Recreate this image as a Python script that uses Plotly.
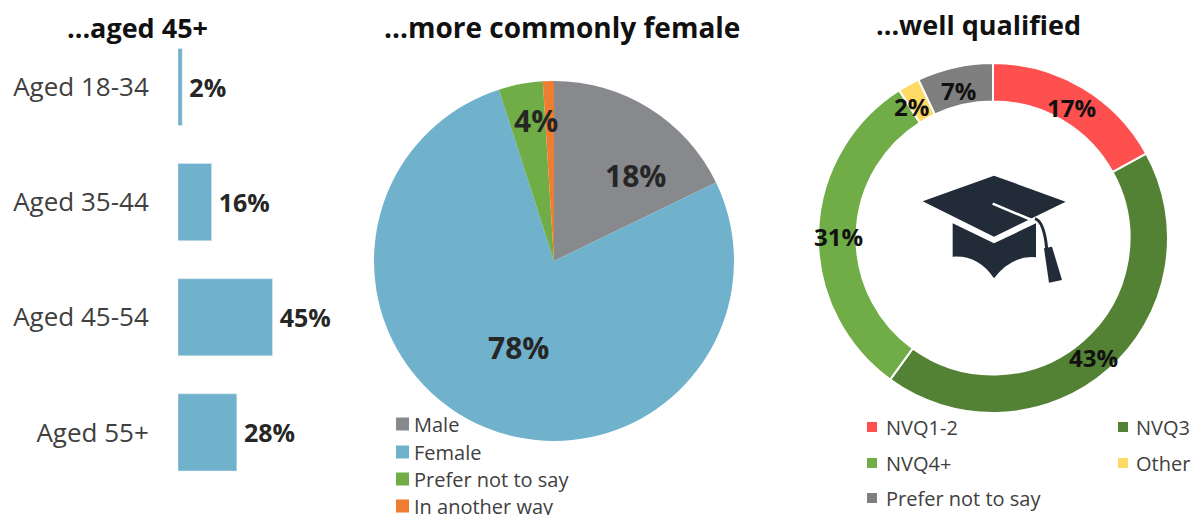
import plotly.graph_objects as go

W, H = 1198, 515
FONT = "Open Sans"
age_groups = ["Aged 18-34", "Aged 35-44", "Aged 45-54", "Aged 55+"]
age_values = [2, 16, 45, 28]
gender_labels = ["Male", "Female", "Prefer not to say", "In another way"]
gender_values = [18, 78, 4, 1]
gender_colors = ["#87898C", "#70B1CC", "#70AD47", "#ED7D31"]
qual_labels = ["NVQ1-2", "NVQ3", "NVQ4+", "Other", "Prefer not to say"]
qual_values = [17, 43, 31, 2, 7]
qual_colors = ["#FF5050", "#548235", "#70AD47", "#FFD966", "#7F7F7F"]
titles = ["...aged 45+", "...more commonly female", "...well qualified"]


def px(x):
    return x / W


def py(y):
    return 1 - y / H


def cap(x, y):
    return f"{px(900 + x / 3):.5f},{py(160 + y / 3):.5f}"


def path(points):
    return "M" + " L".join(cap(*p) for p in points) + " Z"


fig = go.Figure()
fig.add_trace(go.Bar(
    y=age_groups, x=age_values, orientation="h", marker_color="#70B1CC",
    text=[f"\u2009{v}%" for v in age_values], textposition="outside", cliponaxis=False,
    textfont=dict(family=FONT, size=25, color="#262626", weight="bold"),
    showlegend=False, xaxis="x", yaxis="y",
))
fig.add_trace(go.Pie(
    labels=gender_labels, values=gender_values, sort=False, direction="clockwise",
    marker=dict(colors=gender_colors), textinfo="none", hoverinfo="label+percent",
    domain=dict(x=[px(374), px(734)], y=[py(441), py(81)]), showlegend=False,
))
fig.add_trace(go.Pie(
    labels=qual_labels, values=qual_values, sort=False, direction="clockwise", hole=0.78,
    marker=dict(colors=qual_colors, line=dict(color="white", width=2)), textinfo="none",
    hoverinfo="label+percent",
    domain=dict(x=[px(818), px(1168)], y=[py(413), py(63)]), showlegend=False,
))

annotations = []


def add_text(text, x, y, size, color, anchor="center"):
    annotations.append(dict(x=px(x), y=py(y), text=text, showarrow=False, xref="paper", yref="paper",
                            xanchor=anchor, yanchor="middle",
                            font=dict(family=FONT, size=size, color=color)))


for text, x, y, size in zip(titles, [137, 562, 978], [27, 27, 25], [27, 28, 27]):
    add_text(f"<b>{text}</b>", x, y, size, "#111111")
for text, x, y in [("18%", 635, 176), ("78%", 518, 347), ("4%", 536, 120)]:
    add_text(f"<b>{text}</b>", x, y, 30, "#262626")
for text, x, y in [("17%", 1071, 108), ("43%", 1093, 357), ("31%", 838, 236), ("2%", 911, 106), ("7%", 958, 90)]:
    add_text(f"<b>{text}</b>", x, y, 24, "#111111")

CAP = "#222B38"
cap_base = ("M" + cap(158, 190) + " L" + cap(282, 250) + " L" + cap(408, 190) + " L" + cap(408, 292)
            + " Q" + cap(335, 285) + " " + cap(282, 355)
            + " Q" + cap(235, 285) + " " + cap(158, 290) + " Z")
shapes = [
    dict(type="path", xref="paper", yref="paper", fillcolor=CAP, line=dict(width=0),
         path=path([(68, 124), (282, 47), (497, 125), (282, 230)])),
    dict(type="path", xref="paper", yref="paper", fillcolor=CAP, line=dict(width=0), path=cap_base),
    dict(type="path", xref="paper", yref="paper", fillcolor=CAP, line=dict(width=0),
         path=path([(432, 265), (456, 260), (486, 360), (447, 368)])),
    dict(type="path", xref="paper", yref="paper", line=dict(color="white", width=2.5),
         path="M" + cap(278, 131) + " L" + cap(395, 180)),
    dict(type="path", xref="paper", yref="paper", line=dict(color=CAP, width=3),
         path="M" + cap(405, 176) + " Q" + cap(432, 184) + " " + cap(440, 265)),
]


def legend_item(label, color, x, y, box, text_x):
    shapes.append(dict(type="rect", xref="paper", yref="paper", fillcolor=color, line=dict(width=0),
                       x0=px(x), x1=px(x + box), y0=py(y - box / 2), y1=py(y + box / 2)))
    add_text(label, text_x, y, 20, "#404040", "left")


for label, color, y in zip(gender_labels, gender_colors, [424, 452, 479, 506]):
    legend_item(label, color, 396, y, 13, 412)
for label, color, col, y in zip(qual_labels, qual_colors, [0, 1, 0, 1, 0], [427, 427, 463, 463, 498]):
    legend_item(label, color, [867, 1118][col], y, 10, [884, 1134][col])

fig.update_layout(
    width=W, height=H, margin=dict(l=0, r=0, t=0, b=0), paper_bgcolor="white", plot_bgcolor="white",
    bargap=0.33, annotations=annotations, shapes=shapes, showlegend=False,
    font=dict(family=FONT, color="#404040"),
    xaxis=dict(domain=[px(178), px(304)], range=[0, 60], visible=False),
    yaxis=dict(domain=[py(490), py(29.4)], autorange="reversed", showline=False, showgrid=False,
               ticks="outside", ticklen=23, tickcolor="rgba(0,0,0,0)",
               tickfont=dict(family=FONT, size=26, color="#404040")),
)
fig.write_html("out.html", config=dict(displayModeBar=False),
               post_script="document.body.style.margin='0';document.body.style.overflow='hidden';")
